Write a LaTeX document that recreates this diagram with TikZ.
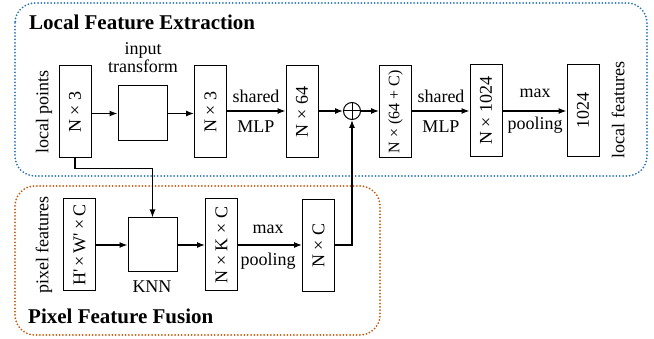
\documentclass[tikz,border=0pt]{standalone}
\usepackage{fontspec}
\setmainfont{Liberation Serif}
\usetikzlibrary{arrows.meta,calc}
\definecolor{lfeblue}{RGB}{46,117,182}
\definecolor{pffred}{RGB}{197,90,17}
\tikzset{
	vbox/.style={draw, line width=1pt, minimum width=32pt, minimum height=92pt, inner sep=0pt, font=\fontsize{18}{20}\selectfont},
	opbox/.style={draw, line width=1pt, minimum width=49pt, minimum height=55pt, inner sep=0pt},
	lbl/.style={inner sep=0pt, font=\fontsize{18}{20}\selectfont},
	ttl/.style={inner sep=0pt, anchor=west, font=\fontsize{21}{23}\selectfont\bfseries},
	arr/.style={-{Latex[length=8pt,width=6pt]}, line width=1.2pt},
	dotbox/.style={line width=2pt, line cap=round, dash pattern=on 0pt off 3.3pt, rounded corners=20pt}
}

\begin{document}
\begin{tikzpicture}[x=1pt,y=-1pt]
		%%%%% START %%%%%
		\useasboundingbox (0,0) rectangle (654,339);
		
		% frames
		\draw[dotbox, lfeblue] (15,3) rectangle (647,176);
		\draw[dotbox, pffred] (15,186) rectangle (380,335);
		\node[ttl] (lfe) at (29,22) {Local Feature Extraction};
		\node[ttl] (pff) at (28,316) {Pixel Feature Fusion};
		
		% local feature extraction
		\node[lbl, rotate=90] (lpts) at (44,112) {local points};
		\node[vbox] (lp) at (75,112) {\rotatebox{90}{N × 3}};
		\node[opbox] (tr) at (142.5,113.5) {};
		\node[lbl, align=center] (trl) at (143,58) {input\\[-2pt]transform};
		\node[vbox] (n3) at (210.5,112) {\rotatebox{90}{N × 3}};
		\node[vbox] (n64) at (302,112) {\rotatebox{90}{N × 64}};
		\node[draw, circle, line width=1pt, minimum size=17pt, inner sep=0pt] (sum) at (352,111) {};
		\draw[line width=1pt] (sum.north) -- (sum.south) (sum.west) -- (sum.east);
		\node[vbox] (n64c) at (395.5,112) {\rotatebox{90}{\fontsize{16}{18}\selectfont N × (64 + C)}};
		\node[vbox] (n1024) at (486,110.5) {\rotatebox{90}{N × 1024}};
		\node[vbox] (g1024) at (583,110.5) {\rotatebox{90}{1024}};
		\node[lbl, rotate=90] (lfeat) at (618,110) {local features};
		
		\node[lbl] (sh1) at (256,96) {shared};
		\node[lbl] (mlp1) at (256,127) {MLP};
		\node[lbl] (sh2) at (441,96) {shared};
		\node[lbl] (mlp2) at (441,127) {MLP};
		\node[lbl] (mx1) at (535,93) {max};
		\node[lbl] (pl1) at (535,125) {pooling};
		
		\draw[arr] (lp.east |- tr.west) -- (tr.west);
		\draw[arr] (tr.east) -- (n3.west |- tr.east);
		\draw[arr] (n3.east |- sum.west) -- (n64.west |- sum.west);
		\draw[arr] (n64.east |- sum.west) -- (sum.west);
		\draw[arr] (sum.east) -- (n64c.west |- sum.east);
		\draw[arr] (n64c.east |- sum.east) -- (n1024.west |- sum.east);
		\draw[arr] (n1024.east |- sum.east) -- (g1024.west |- sum.east);
		
		% pixel feature fusion
		\node[lbl, rotate=90] (pfl) at (44,245) {pixel features};
		\node[vbox] (pf) at (79.5,245) {\rotatebox{90}{H\textquotesingle\,×\,W\textquotesingle\,×\,C}};
		\node[opbox, minimum height=54pt] (knn) at (152.5,245) {};
		\node[lbl] (knnl) at (152,287) {KNN};
		\node[vbox] (nkc) at (221.5,245) {\rotatebox{90}{N × K × C}};
		\node[vbox] (nc) at (318.5,245.5) {\rotatebox{90}{N × C}};
		\node[lbl] (mx2) at (268,229) {max};
		\node[lbl] (pl2) at (268,261) {pooling};
		
		\draw[arr] (pf.east |- knn.west) -- (knn.west);
		\draw[arr] (knn.east) -- (nkc.west |- knn.east);
		\draw[arr] (nkc.east |- knn.east) -- (nc.west |- knn.east);
		
		% links between the two parts
		\draw[arr] (lp.south) -- ++(0,10) -| (knn.north);
		\draw[arr] (nc.east |- knn.east) -| (sum.south);
		
		%%%%% END %%%%%
\end{tikzpicture}
\end{document}
